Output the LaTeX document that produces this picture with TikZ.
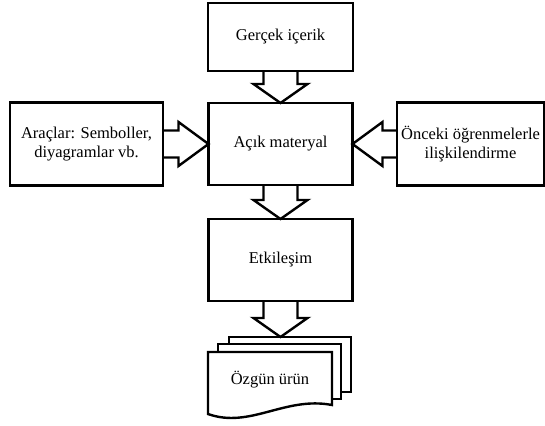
\documentclass[tikz,border=0pt]{standalone}
\usepackage{fontspec}
\setmainfont{Liberation Serif}
\usetikzlibrary{calc,backgrounds}

% asagi bakan blok ok: #1 cikis noktasi, #2 ucun degdigi nokta
\newcommand{\asagiok}[2]{%
  \draw[okcizgi] ($(#1)+(-17,0)$) -- ($(#2)+(-17,-19)$) -- ($(#2)+(-27,-19)$)
    -- (#2) -- ($(#2)+(27,-19)$) -- ($(#2)+(17,-19)$) -- ($(#1)+(17,0)$);}

\begin{document}
\begin{tikzpicture}[x=1pt, y=-1pt, font=\fontsize{16.5}{19}\selectfont,
  kutu/.style={draw, line width=2.4pt, outer sep=0pt, inner sep=0pt, align=center},
  okcizgi/.style={line width=2.4pt, line join=miter}]

\useasboundingbox (0,0) rectangle (545,425);

\node[kutu, minimum width=145pt, minimum height=68pt] (gercek) 
    at (280.5,37) {Gerçek içerik};

\node[kutu, minimum width=144pt, minimum height=82pt] (acik)
    at (280.5,144) {Açık materyal};

\node[kutu, minimum width=153pt, minimum height=83pt] (araclar)
    at (86.5,144) {Araçlar: Semboller,\\ diyagramlar vb.};

\node[kutu, minimum width=147pt, minimum height=83pt] (onceki)
    at (470.5,144) {Önceki öğrenmelerle\\ ilişkilendirme};

\node[kutu, minimum width=144pt, minimum height=82pt] (etkilesim)
    at (280.5,260) {Etkileşim};

\node[kutu, draw=none, minimum width=124pt, minimum height=56pt] (ozgun)
    at (270,380) {Özgün ürün};

% ust uste sayfalar
\begin{scope}[on background layer]
\draw[okcizgi, fill=white] ($(ozgun.north west)+(21,-15)$) rectangle ($(ozgun.north east)+(19,40)$);
\draw[okcizgi, fill=white] ($(ozgun.north west)+(10,-8)$) rectangle ($(ozgun.north east)+(9,47)$);
\draw[okcizgi, fill=white] (ozgun.north west) -- (ozgun.north east) -- ($(ozgun.north east)+(0,53)$)
    .. controls ($(ozgun.north east)+(-47,44)$) and ($(ozgun.north west)+(42,77)$) .. ($(ozgun.north west)+(0,62)$)
    -- cycle;
\end{scope}

\coordinate (ozgunust) at ($(etkilesim.south |- ozgun.north)+(0,-15)$);

\asagiok{gercek.south}{acik.north}
\asagiok{acik.south}{etkilesim.north}
\asagiok{etkilesim.south}{ozgunust}

\draw[okcizgi] ($(araclar.east)+(0,-13.5)$) -- ($(acik.west)+(-30,-13.5)$) -- ($(acik.west)+(-30,-22)$)
    -- (acik.west) -- ($(acik.west)+(-30,22)$) -- ($(acik.west)+(-30,13.5)$) -- ($(araclar.east)+(0,13.5)$);
\draw[okcizgi] ($(onceki.west)+(0,-13.5)$) -- ($(acik.east)+(30,-13.5)$) -- ($(acik.east)+(30,-22)$)
    -- (acik.east) -- ($(acik.east)+(30,22)$) -- ($(acik.east)+(30,13.5)$) -- ($(onceki.west)+(0,13.5)$);

\end{tikzpicture}
\end{document}
